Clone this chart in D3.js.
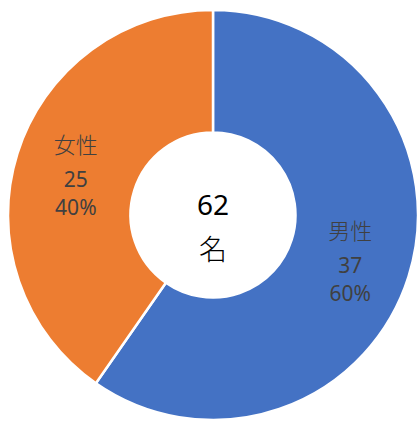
<!DOCTYPE html>
<html>
<head>
<meta charset="utf-8">
<script src="https://cdn.jsdelivr.net/npm/d3@7"></script>
<style>
  html, body { margin: 0; padding: 0; background: #fff; }
  svg { display: block; }
</style>
</head>
<body>
<div id="chart"></div>
<script>
// data
const categories = ['男性', '女性']
const counts = [37, 25]
const colors = ['#4472C4', '#ED7D31']
const totalLabel = ['62', '名']

const width = 418, height = 422
const cx = 213, cy = 215
const outerR = 205, innerR = 82.5

const svg = d3.select('#chart').append('svg')
    .attr('width', width)
    .attr('height', height)

const g = svg.append('g').attr('transform', `translate(${cx},${cy})`)

const total = d3.sum(counts)
const rows = categories.map((c, i) => ({ name: c, value: counts[i], color: colors[i] }))

const pie = d3.pie().value(d => d.value).sort(null)
const arc = d3.arc().innerRadius(innerR).outerRadius(outerR)
const arcs = pie(rows)

// slices
g.selectAll('path.slice')
    .data(arcs)
    .enter()
    .append('path')
    .attr('class', 'slice')
    .attr('d', arc)
    .attr('fill', d => d.data.color)
    .attr('stroke', '#fff')
    .attr('stroke-width', 2.5)
    .attr('stroke-linejoin', 'miter')

// labels at the centroid of each slice
const fontLabel = '"Noto Sans", "Noto Sans CJK JP", sans-serif'
const fontCjk = '"Noto Sans CJK JP", sans-serif'
const lab = g.selectAll('g.lab')
    .data(arcs)
    .enter()
    .append('g')
    .attr('class', 'lab')
    .attr('transform', d => `translate(${arc.centroid(d)})`)

lab.append('text')
    .attr('y', -29)
    .attr('font-family', fontCjk)
    .attr('font-weight', 300)
    .attr('font-size', 22)
    .text(d => d.data.name)
lab.append('text')
    .attr('y', 7)
    .attr('font-family', fontLabel)
    .attr('font-size', 21)
    .text(d => d.data.value)
lab.append('text')
    .attr('y', 35)
    .attr('font-family', fontLabel)
    .attr('font-size', 21)
    .text(d => Math.round(d.data.value / total * 100) + '%')
lab.selectAll('text')
    .attr('text-anchor', 'middle')
    .attr('dominant-baseline', 'central')
    .attr('fill', '#404040')

// center total
g.append('text')
    .attr('y', -11)
    .attr('text-anchor', 'middle')
    .attr('dominant-baseline', 'central')
    .attr('font-family', fontLabel)
    .attr('font-size', 28)
    .attr('fill', '#000')
    .text(totalLabel[0])
g.append('text')
    .attr('y', 33)
    .attr('text-anchor', 'middle')
    .attr('dominant-baseline', 'central')
    .attr('font-family', fontCjk)
    .attr('font-weight', 300)
    .attr('font-size', 28)
    .attr('fill', '#000')
    .text(totalLabel[1])
</script>
</body>
</html>
